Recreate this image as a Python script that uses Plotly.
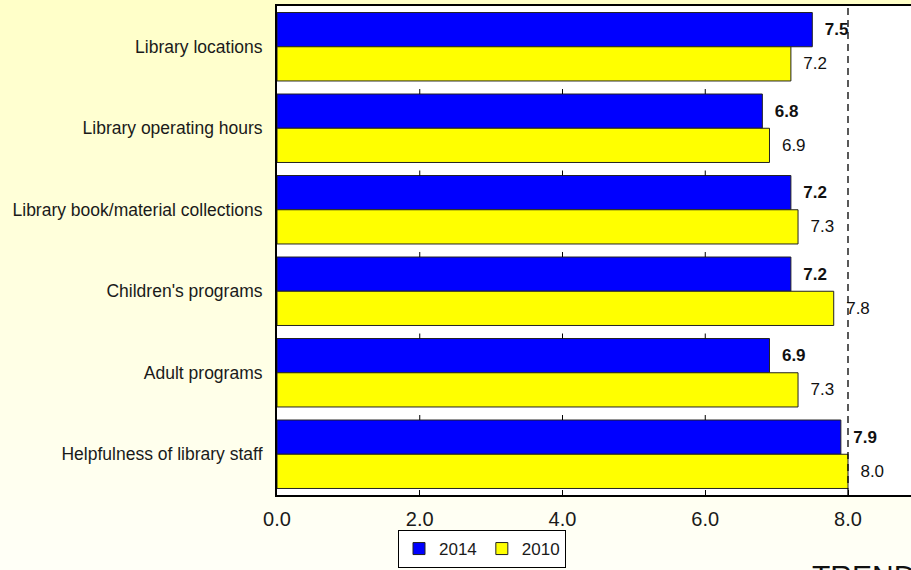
import plotly.graph_objects as go

# Survey ratings (0-10 scale) by library service, 2014 vs 2010
categories = [
    "Library locations",
    "Library operating hours",
    "Library book/material collections",
    "Children's programs",
    "Adult programs",
    "Helpfulness of library staff",
]
ratings_2014 = [7.5, 6.8, 7.2, 7.2, 6.9, 7.9]
ratings_2010 = [7.2, 6.9, 7.3, 7.8, 7.3, 8.0]
x_ticks = [0, 2, 4, 6, 8]
reference_value = 8.0

W, H = 911, 570
M_L, M_R, M_T, M_B = 277, 0, 6, 75
PW, PH = W - M_L - M_R, H - M_T - M_B
BARGAP = 0.16
PX_PER_UNIT = 71.375
FONT = "Arial, Liberation Sans, sans-serif"


def px_x(px):
    return (px - M_L) / PW


def px_y(py):
    return (H - M_B - py) / PH


fig = go.Figure()
fig.add_trace(go.Bar(
    name="2014", y=categories, x=ratings_2014, orientation="h",
    marker=dict(color="#0000FF", line=dict(color="#222222", width=1)),
    text=[f"  <b>{v:.1f}</b>" for v in ratings_2014],
    textposition="outside", cliponaxis=False,
    textfont=dict(family=FONT, size=17, color="#111111"),
))
fig.add_trace(go.Bar(
    name="2010", y=categories, x=ratings_2010, orientation="h",
    marker=dict(color="#FFFF00", line=dict(color="#222222", width=1)),
    text=[f"  {v:.1f}" for v in ratings_2010],
    textposition="outside", cliponaxis=False,
    textfont=dict(family=FONT, size=17, color="#111111"),
))

shapes = []
# soft yellow backdrop fading toward white at the bottom
n_bands = 57
top_rgb, bot_rgb = (255, 255, 200), (255, 255, 247)
for i in range(n_bands):
    t = i / (n_bands - 1)
    r, g, b = [round(a + (c - a) * t) for a, c in zip(top_rgb, bot_rgb)]
    y0 = i * H / n_bands
    y1 = (i + 1) * H / n_bands + 1
    shapes.append(dict(type="rect", xref="paper", yref="paper", layer="below",
                       x0=px_x(0), x1=px_x(W), y0=px_y(y1), y1=px_y(y0),
                       fillcolor=f"rgb({r},{g},{b})", line=dict(width=0)))
# white plotting area
shapes.append(dict(type="rect", xref="paper", yref="paper", layer="below",
                   x0=0, x1=1, y0=0, y1=1, fillcolor="white", line=dict(width=0)))

# short tick marks above each category group (after the first)
tick_len = 5 / (PH / len(categories))
for i in range(1, len(categories)):
    top_edge = i - (1 - BARGAP) / 2
    for xv in x_ticks[1:-1]:
        shapes.append(dict(type="line", xref="x", yref="y", layer="above",
                           x0=xv, x1=xv, y0=top_edge - tick_len, y1=top_edge,
                           line=dict(color="black", width=1)))

# dashed reference line
shapes.append(dict(type="line", xref="x", yref="paper", layer="above",
                   x0=reference_value, x1=reference_value, y0=0, y1=1,
                   line=dict(color="black", width=1.3, dash="7px,5px")))

fig.update_layout(
    width=W, height=H,
    margin=dict(l=M_L, r=M_R, t=M_T, b=M_B, pad=0, autoexpand=False),
    paper_bgcolor="rgba(0,0,0,0)",
    plot_bgcolor="white",
    barmode="group", bargap=BARGAP, bargroupgap=0,
    shapes=shapes,
    font=dict(family=FONT, color="#1a1a1a"),
    xaxis=dict(
        range=[0, PW / PX_PER_UNIT], tickvals=x_ticks,
        ticktext=[f"{v:.1f}" for v in x_ticks],
        ticks="inside", ticklen=5, tickwidth=1, tickcolor="black",
        showline=True, linecolor="black", linewidth=2, mirror=True,
        showgrid=False, zeroline=False, automargin=False,
        tickfont=dict(family=FONT, size=20, color="#1a1a1a"),
        ticklabelstandoff=5,
    ),
    yaxis=dict(
        autorange="reversed",
        showline=True, linecolor="black", linewidth=2,
        ticks="", showgrid=False, zeroline=False, automargin=False,
        tickfont=dict(family=FONT, size=17.5, color="#1a1a1a"),
        ticklabelstandoff=9,
    ),
    legend=dict(
        orientation="h", xref="container", yref="container",
        x=482 / W, xanchor="center",
        y=1 - 568 / H, yanchor="bottom",
        bgcolor="white", bordercolor="black", borderwidth=1,
        font=dict(family=FONT, size=17, color="#1a1a1a"),
        itemwidth=30, tracegroupgap=0,
    ),
    annotations=[dict(
        text="TREND", xref="paper", yref="paper",
        x=px_x(810), y=px_y(557), xanchor="left", yanchor="top",
        showarrow=False, font=dict(family=FONT, size=30, color="#111111"),
    )],
)

fig.write_html("out.html")
